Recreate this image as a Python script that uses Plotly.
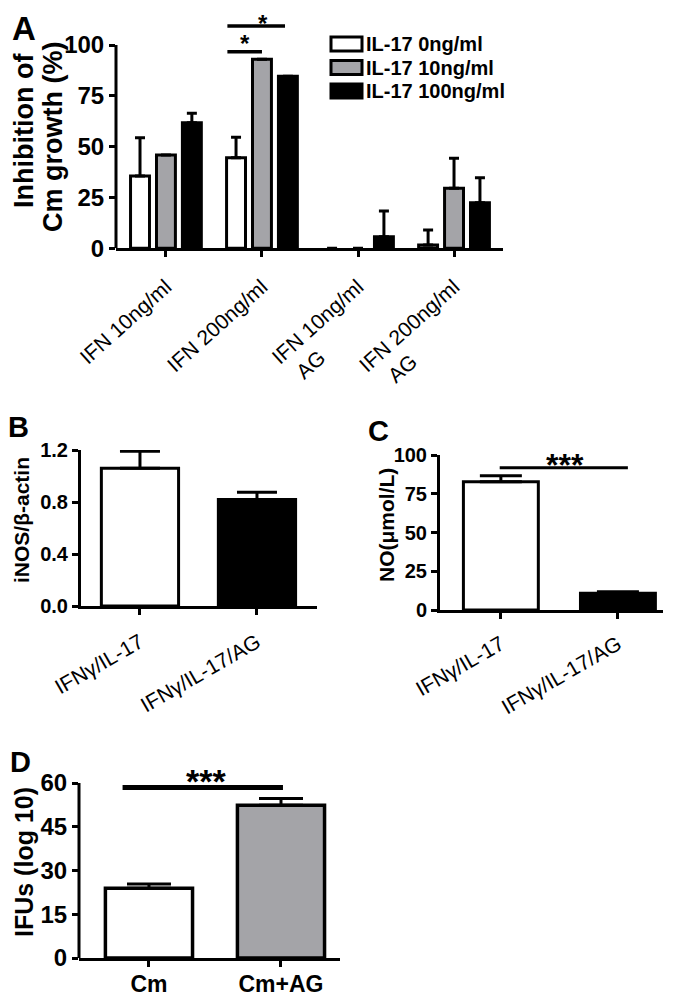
import plotly.graph_objects as go

# The page body adds an 8px offset; the figure is sized so that it fills the window.
OFF = 8
W, H = 683 - OFF, 1001 - OFF
FONT = "Liberation Sans, Arial, sans-serif"
GREY = "#a4a4a8"

# ---------------- Panel A data ----------------
groups_a = ["IFN 10ng/ml", "IFN 200ng/ml", "IFN 10ng/ml<br>AG", "IFN 200ng/ml<br>AG"]
series_a = ["IL-17 0ng/ml", "IL-17 10ng/ml", "IL-17 100ng/ml"]
vals_a0 = [35.6, 44.5, 0.0, 1.6]
err_a0 = [18.8, 10.1, 0.0, 7.4]
vals_a10 = [45.9, 93.0, 0.0, 29.5]
err_a10 = [0.0, 0.0, 0.0, 14.8]
vals_a100 = [61.8, 84.6, 5.7, 22.4]
err_a100 = [4.6, 0.0, 12.6, 12.3]
ticks_a = [0, 25, 50, 75, 100]
sig_a_x = [[0.64, 1.0], [0.64, 1.24]]
sig_a_y = [96.7, 109.3]
star_a = [(0.82, 100.8), (1.01, 110.8)]

# ---------------- Panel B data ----------------
cats_b = ["IFNγ/IL-17", "IFNγ/IL-17/AG"]
vals_b = [1.06, 0.82]
err_b = [0.13, 0.055]
ticks_b = [0.0, 0.4, 0.8, 1.2]

# ---------------- Panel C data ----------------
cats_c = ["IFNγ/IL-17", "IFNγ/IL-17/AG"]
vals_c = [82.8, 10.8]
err_c = [3.8, 1.0]
ticks_c = [0, 25, 50, 75, 100]
sig_c_x = [-0.01, 1.085]
sig_c_y = 91.8
star_c = (0.55, 93.5)

# ---------------- Panel D data ----------------
cats_d = ["Cm", "Cm+AG"]
vals_d = [23.9, 52.4]
err_d = [1.5, 2.3]
ticks_d = [0, 15, 30, 45, 60]
sig_d_x = [-0.2, 1.015]
sig_d_y = 58.5
star_d = (0.43, 60.6)


def px(x):
    return (x - OFF) / W


def py(y):
    return 1 - (y - OFF) / H


def pad_label(lbl):
    if "<br>" in lbl:
        a, b = lbl.split("<br>")
        n = max(0, int(round((len(a) - len(b)) * 1.45)))
        return a + "<br>" + b + "\u00a0" * n
    return lbl


ticktext_a = [pad_label(g) for g in groups_a]
xs_a = list(range(len(groups_a)))

fig = go.Figure()

fills_a = ["white", GREY, "black"]
for name, vals, errs, col in zip(series_a, [vals_a0, vals_a10, vals_a100],
                                  [err_a0, err_a10, err_a100], fills_a):
    fig.add_trace(go.Bar(
        x=xs_a, y=vals, name=name, xaxis="x", yaxis="y",
        marker=dict(color=col, line=dict(color="black",
                                         width=[3 if v > 0 else 0 for v in vals])),
        error_y=dict(type="data", symmetric=False, array=errs,
                     arrayminus=[0] * len(errs), color="black", thickness=3, width=5),
        showlegend=False,
    ))

for xx, yy in zip(sig_a_x, sig_a_y):
    fig.add_trace(go.Scatter(x=xx, y=[yy, yy], mode="lines", xaxis="x", yaxis="y",
                             line=dict(color="black", width=3.5), showlegend=False,
                             hoverinfo="skip"))

fig.add_trace(go.Bar(
    x=[0, 1], y=vals_b, xaxis="x2", yaxis="y2", width=0.66,
    marker=dict(color=["white", "black"], line=dict(color="black", width=3)),
    error_y=dict(type="data", symmetric=False, array=err_b, arrayminus=[0, 0],
                 color="black", thickness=3, width=20),
    showlegend=False,
))

fig.add_trace(go.Bar(
    x=[0, 1], y=vals_c, xaxis="x3", yaxis="y3", width=0.64,
    marker=dict(color=["white", "black"], line=dict(color="black", width=3)),
    error_y=dict(type="data", symmetric=False, array=err_c, arrayminus=[0, 0],
                 color="black", thickness=3, width=21),
    showlegend=False,
))
fig.add_trace(go.Scatter(x=sig_c_x, y=[sig_c_y, sig_c_y], mode="lines", xaxis="x3",
                         yaxis="y3", line=dict(color="black", width=3),
                         showlegend=False, hoverinfo="skip"))

fig.add_trace(go.Bar(
    x=[0, 1], y=vals_d, xaxis="x4", yaxis="y4", width=0.66,
    marker=dict(color=["white", GREY], line=dict(color="black", width=3.5)),
    error_y=dict(type="data", symmetric=False, array=err_d, arrayminus=[0, 0],
                 color="black", thickness=3, width=22),
    showlegend=False,
))
fig.add_trace(go.Scatter(x=sig_d_x, y=[sig_d_y, sig_d_y], mode="lines", xaxis="x4",
                         yaxis="y4", line=dict(color="black", width=5),
                         showlegend=False, hoverinfo="skip"))


def xax(dom, rng, tickvals, ticktext, angle, fsize, bold, anchor, standoff=None):
    d = dict(domain=[px(dom[0]), px(dom[1])], range=rng, tickmode="array",
             tickvals=tickvals, ticktext=ticktext, tickangle=angle, anchor=anchor,
             showline=True, linecolor="black", linewidth=3, ticks="outside",
             ticklen=6, tickwidth=3, tickcolor="black", showgrid=False,
             zeroline=False, fixedrange=True, automargin=False,
             tickfont=dict(family=FONT, size=fsize, color="black",
                           weight="bold" if bold else "normal"))
    if standoff is not None:
        d["ticklabelstandoff"] = standoff
    return d


def yax(dom, rng, tickvals, fmt, fsize, anchor, showline=True):
    return dict(domain=[py(dom[1]), py(dom[0])], range=rng, tickmode="array",
                tickvals=tickvals, tickformat=fmt, anchor=anchor,
                showline=showline, linecolor="black", linewidth=3, ticks="outside",
                ticklen=6, tickwidth=3, tickcolor="black", showgrid=False,
                zeroline=False, fixedrange=True, automargin=False,
                tickfont=dict(family=FONT, size=fsize, color="black", weight="bold"))


d_top = 66.0
layout = dict(
    width=W, height=H, margin=dict(l=0, r=0, t=0, b=0, pad=0, autoexpand=False),
    paper_bgcolor="white", plot_bgcolor="white", showlegend=False,
    barmode="group", bargap=0.19, bargroupgap=0.27,
    font=dict(family=FONT, color="black"),
    xaxis=xax((116, 503), [-0.52, 3.51], xs_a, ticktext_a, -42, 21, False, "y",
              standoff=9),
    yaxis=yax((20.6, 248.3), [0, 112], ticks_a, "d", 24, "x", showline=False),
    xaxis2=xax((81, 317), [-0.504, 1.513], [0, 1], cats_b, -30, 21, False, "y2",
               standoff=7),
    yaxis2=yax((450, 606), [0, 1.2], ticks_b, ".1f", 20, "x2"),
    xaxis3=xax((440, 663), [-0.52, 1.385], [0, 1], cats_c, -30, 21, False, "y3",
               standoff=5),
    yaxis3=yax((455, 610), [0, 100], ticks_c, "d", 20, "x3"),
    xaxis4=xax((79, 340), [-0.53, 1.447], [0, 1], cats_d, 0, 23, True, "y4",
               standoff=-3),
    yaxis4=yax((958 - d_top * 175 / 60, 958), [0, d_top], ticks_d, "d", 24, "x4",
               showline=False),
)
fig.update_layout(**layout)

shapes = []
shapes.append(dict(type="line", xref="x domain", yref="y", x0=0, x1=0, y0=0,
                   y1=ticks_a[-1], line=dict(color="black", width=3)))
shapes.append(dict(type="line", xref="x4 domain", yref="y4", x0=0, x1=0, y0=0,
                   y1=ticks_d[-1], line=dict(color="black", width=3)))

leg_rows = [44, 67.5, 91]
annotations = []
for name, col, cy in zip(series_a, fills_a, leg_rows):
    shapes.append(dict(type="rect", xref="paper", yref="paper",
                       x0=px(331), x1=px(362), y0=py(cy + 7), y1=py(cy - 7),
                       fillcolor=col, line=dict(color="black", width=3)))
    annotations.append(dict(text=name, xref="paper", yref="paper", x=px(364),
                            y=py(cy), xanchor="left", yanchor="middle",
                            showarrow=False,
                            font=dict(family=FONT, size=20, color="black", weight="bold")))

for sx, sy in star_a:
    annotations.append(dict(text="*", xref="x", yref="y", x=sx, y=sy, showarrow=False,
                            xanchor="center", yanchor="middle",
                            font=dict(family=FONT, size=24, color="black", weight="bold")))
annotations.append(dict(text="***", xref="x3", yref="y3", x=star_c[0], y=star_c[1],
                        showarrow=False, xanchor="center", yanchor="middle",
                        font=dict(family=FONT, size=32, color="black", weight="bold")))
annotations.append(dict(text="***", xref="x4", yref="y4", x=star_d[0], y=star_d[1],
                        showarrow=False, xanchor="center", yanchor="middle",
                        font=dict(family=FONT, size=34, color="black", weight="bold")))

annotations.append(dict(text="A", xref="paper", yref="paper", x=px(24), y=1.0,
                        xanchor="center", yanchor="top", showarrow=False,
                        font=dict(family=FONT, size=33, color="black", weight="bold")))
for letter, (lx, ly, fs) in {"B": (19, 427, 29), "C": (378, 431, 29),
                             "D": (20, 762, 29)}.items():
    annotations.append(dict(text=letter, xref="paper", yref="paper", x=px(lx), y=py(ly),
                            xanchor="center", yanchor="middle", showarrow=False,
                            font=dict(family=FONT, size=fs, color="black", weight="bold")))

for txt, (tx, ty, fs) in [("Inhibition of", (24, 131, 27)),
                          ("Cm growth (%)", (53, 137, 27)),
                          ("iNOS/β-actin", (21, 520, 21)),
                          ("NO(μmol/L)", (386, 525, 21)),
                          ("IFUs (log 10)", (24, 862, 25))]:
    annotations.append(dict(text=txt, xref="paper", yref="paper", x=px(tx), y=py(ty),
                            xanchor="center", yanchor="middle", textangle=-90,
                            showarrow=False,
                            font=dict(family=FONT, size=fs, color="black", weight="bold")))

fig.update_layout(shapes=shapes, annotations=annotations)

fig.write_html("out.html")
